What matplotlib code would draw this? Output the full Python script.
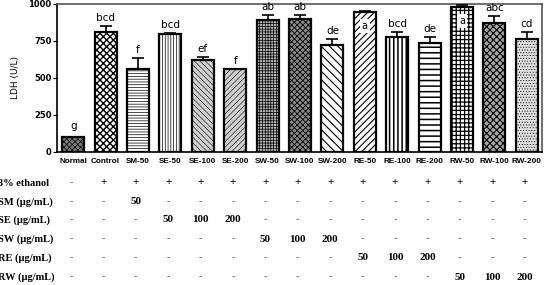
import matplotlib.pyplot as plt
import numpy as np

# groups and LDH values (U/L)
groups = ["Normal", "Control", "SM-50", "SE-50", "SE-100", "SE-200", "SW-50", "SW-100",
          "SW-200", "RE-50", "RE-100", "RE-200", "RW-50", "RW-100", "RW-200"]
ldh = [100, 811, 561, 797, 622, 561, 892, 899, 723, 946, 777, 736, 980, 872, 764]
err = [0, 40, 74, 7, 20, 0, 34, 27, 40, 7, 34, 41, 13, 47, 47]
letters = ["g", "bcd", "f", "bcd", "ef", "f", "ab", "ab", "de", "a", "bcd", "de", "a", "abc", "cd"]

# treatment table under the chart
row_names = ["3% ethanol", "SM (\u03bcg/mL)", "SE (\u03bcg/mL)", "SW (\u03bcg/mL)", "RE (\u03bcg/mL)", "RW (\u03bcg/mL)"]
ethanol = ["-"] + ["+"] * 14
sm = ["-", "-", "50"] + ["-"] * 12
se = ["-", "-", "-", "50", "100", "200"] + ["-"] * 9
sw = ["-"] * 6 + ["50", "100", "200"] + ["-"] * 6
re = ["-"] * 9 + ["50", "100", "200"] + ["-"] * 3
rw = ["-"] * 12 + ["50", "100", "200"]
rows = [ethanol, sm, se, sw, re, rw]

# fill / hatch for each bar
fills = ["#7a7a7a", "white", "white", "white", "#d0d0d0", "#d0d0d0", "#b8b8b8", "#8c8c8c",
         "white", "white", "white", "white", "white", "#a8a8a8", "#e2e2e2"]
hatches = ["xxxxxx", "xxxxx", "------", "||||||", "\\\\\\\\\\\\", "//////", "++++++", "xxxxxx",
           "\\\\\\\\", "/////", "||||", "---", "++++", "xxxxx", "......"]
hatch_lw = [0.5, 1.0, 0.5, 0.5, 0.4, 0.4, 0.5, 0.6, 0.8, 0.8, 1.1, 1.1, 0.9, 0.8, 0.4]

fig = plt.figure(figsize=(5.45, 2.85), dpi=100)
ax = fig.add_axes([0.1046, 0.4667, 0.8899, 0.5193])

x = np.arange(len(groups))
for i in range(len(groups)):
    with plt.rc_context({"hatch.linewidth": hatch_lw[i]}):
        ax.bar(x[i], ldh[i], width=0.68, color=fills[i], hatch=hatches[i],
               edgecolor="black", linewidth=1.6, zorder=2)
    if err[i] > 0:
        ax.errorbar(x[i], ldh[i], yerr=[[0], [err[i]]], fmt="none", ecolor="black",
                    elinewidth=1.2, capsize=4, capthick=1.2, zorder=3)

for i in range(len(groups)):
    if letters[i] == "a" and ldh[i] > 940:
        ax.text(x[i], ldh[i] - 95, "a", ha="center", va="center", fontsize=7,
                bbox=dict(facecolor="white", edgecolor="none", pad=1.5), zorder=4)
    else:
        extra = 45 if letters[i] == "g" else 22
        ax.text(x[i], ldh[i] + err[i] + extra, letters[i], ha="center", va="bottom",
                fontsize=7.5, zorder=4)

ax.set_xlim(-0.5, 14.47)
ax.set_ylim(0, 1000)
ax.set_yticks([0, 250, 500, 750, 1000])
ax.set_yticklabels(["0", "250", "500", "750", "1000"], fontsize=6, fontweight="bold")
ax.set_xticks(x)
ax.set_xticklabels(groups, fontsize=5.9, fontweight="bold", family="Liberation Sans")
ax.tick_params(axis="x", direction="in", length=3, pad=4)
ax.tick_params(axis="y", direction="out", length=3, pad=1)
ax.set_ylabel("LDH (U/L)", fontsize=6.5, labelpad=6)
for s in ax.spines.values():
    s.set_linewidth(1.2)
ax.spines["top"].set_color("#555555")
ax.spines["right"].set_color("#555555")

# table rows
row_y = [183, 202, 220, 239, 258, 277]
for r in range(len(rows)):
    yf = 1 - row_y[r] / 285
    fig.text(-0.004, yf, row_names[r], ha="left", va="center", fontsize=7.5,
             family="Liberation Serif", fontweight="bold")
    for i in range(len(groups)):
        xd = ax.transData.transform((x[i], 0))[0]
        xf = fig.transFigure.inverted().transform((xd, 0))[0]
        val = rows[r][i]
        if val == "-":
            fig.text(xf - 0.004, yf, "-", ha="center", va="center", fontsize=7.5,
                     family="Liberation Serif", color="#666666")
        else:
            fig.text(xf - 0.004, yf, val, ha="center", va="center", fontsize=8,
                     family="Liberation Serif", fontweight="bold")

plt.savefig("out.png", dpi=100)
